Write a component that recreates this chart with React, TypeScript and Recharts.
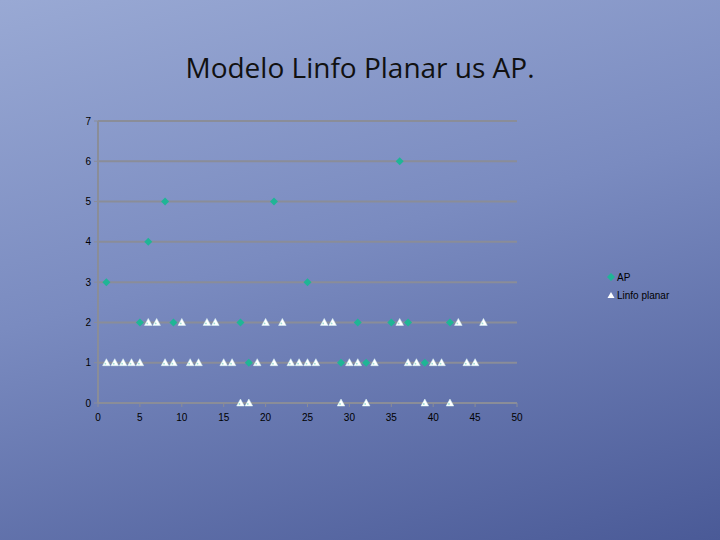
import React from "react";
import { ScatterChart, Scatter, XAxis, YAxis, CartesianGrid, Legend } from "recharts";

const apX = [1, 5, 6, 8, 9, 17, 18, 21, 25, 29, 31, 32, 35, 36, 37, 39, 42];
const apY = [3, 2, 4, 5, 2, 2, 1, 5, 3, 1, 2, 1, 2, 6, 2, 1, 2];

const linfoX = [
  1, 2, 3, 4, 5, 6, 7, 8, 9, 10, 11, 12, 13, 14, 15, 16, 17, 18, 19, 20, 21, 22,
  23, 24, 25, 26, 27, 28, 29, 30, 31, 32, 33, 36, 37, 38, 39, 40, 41, 42, 43, 44, 45, 46,
];
const linfoY = [
  1, 1, 1, 1, 1, 2, 2, 1, 1, 2, 1, 1, 2, 2, 1, 1, 0, 0, 1, 2, 1, 2,
  1, 1, 1, 1, 2, 2, 0, 1, 1, 0, 1, 2, 1, 1, 0, 1, 1, 0, 2, 1, 1, 2,
];

const xTicks = [0, 5, 10, 15, 20, 25, 30, 35, 40, 45, 50];
const yTicks = [0, 1, 2, 3, 4, 5, 6, 7];

const apData = apX.map((x, i) => ({ x, y: apY[i] }));
const linfoData = linfoX.map((x, i) => ({ x, y: linfoY[i] }));

const AP_COLOR = "#1fb596";
const FONT = "Liberation Sans, Arial, sans-serif";

const Diamond = (props: any) => {
  const { cx, cy } = props;
  if (cx == null || cy == null) return null;
  return (
    <path
      d={`M${cx},${cy - 4} L${cx + 4},${cy} L${cx},${cy + 4} L${cx - 4},${cy} Z`}
      fill={AP_COLOR}
    />
  );
};

const Tri = (props: any) => {
  const { cx, cy } = props;
  if (cx == null || cy == null) return null;
  return (
    <g>
      <path
        d={`M${cx},${cy - 4} L${cx + 3.8},${cy + 3} L${cx - 3.8},${cy + 3} Z`}
        fill="#ffffff"
        stroke="#d8f4f2"
        strokeWidth={0.5}
      />
      <circle cx={cx - 1} cy={cy + 1} r={0.9} fill="#9fe0d6" />
    </g>
  );
};

const XTick = (props: any) => {
  const { x, y, payload } = props;
  return (
    <text x={x} y={y + 12} textAnchor="middle" fill="#000" fontSize={10} fontFamily={FONT}>
      {payload.value}
    </text>
  );
};

const LegendContent = (props: any) => {
  const { payload } = props;
  return (
    <div style={{ fontFamily: FONT, fontSize: 10, color: "#000" }}>
      {(payload || []).map((p: any, i: number) => (
        <div key={i} style={{ display: "flex", alignItems: "center", height: 18 }}>
          <svg width={10} height={10} style={{ marginRight: 1 }}>
            {i === 0 ? (
              <path d="M5,1 L9,5 L5,9 L1,5 Z" fill={AP_COLOR} />
            ) : (
              <path d="M5,2 L8.5,8 L1.5,8 Z" fill="#ffffff" />
            )}
          </svg>
          <span>{p.value}</span>
        </div>
      ))}
    </div>
  );
};

export default function App() {
  return (
    <div
      style={{
        position: "fixed",
        left: 0,
        top: 0,
        width: 720,
        height: 540,
        background: "linear-gradient(165deg, #99a9d4 0%, #7a8bc0 45%, #4a5a97 100%)",
        overflow: "hidden",
      }}
    >
      <div
        style={{
          position: "absolute",
          top: 48,
          left: 0,
          width: 720,
          textAlign: "center",
          fontFamily: "Open Sans, sans-serif",
          fontSize: 28,
          color: "#111",
        }}
      >
        Modelo Linfo Planar us AP.
      </div>
      <ScatterChart
        width={720}
        height={540}
        margin={{ top: 121, right: 203, bottom: 107, left: 68 }}
        style={{ position: "absolute", left: 0, top: 0 }}
      >
        <CartesianGrid
          horizontal={true}
          vertical={false}
          stroke="#8a8d98"
          strokeWidth={2}
        />
        <XAxis
          type="number"
          dataKey="x"
          domain={[0, 50]}
          ticks={xTicks}
          interval={0}
          height={30}
          axisLine={{ stroke: "#8a8d98", strokeWidth: 2 }}
          tickLine={{ stroke: "#8a8d98" }}
          tickSize={4}
          tick={<XTick />}
        />
        <YAxis
          type="number"
          dataKey="y"
          domain={[0, 7]}
          ticks={yTicks}
          interval={0}
          width={30}
          axisLine={{ stroke: "#8a8d98", strokeWidth: 2 }}
          tickLine={{ stroke: "#8a8d98" }}
          tickSize={4}
          tickMargin={3}
          tick={{ fill: "#000", fontSize: 10, fontFamily: FONT }}
        />
        <Legend
          layout="vertical"
          align="center"
          verticalAlign="middle"
          content={<LegendContent />}
          wrapperStyle={{ position: "absolute", left: 606, top: 268, width: 110 }}
        />
        <Scatter name="AP" data={apData} shape={<Diamond />} fill={AP_COLOR} isAnimationActive={false} />
        <Scatter name="Linfo planar" data={linfoData} shape={<Tri />} fill="#ffffff" isAnimationActive={false} />
      </ScatterChart>
    </div>
  );
}
